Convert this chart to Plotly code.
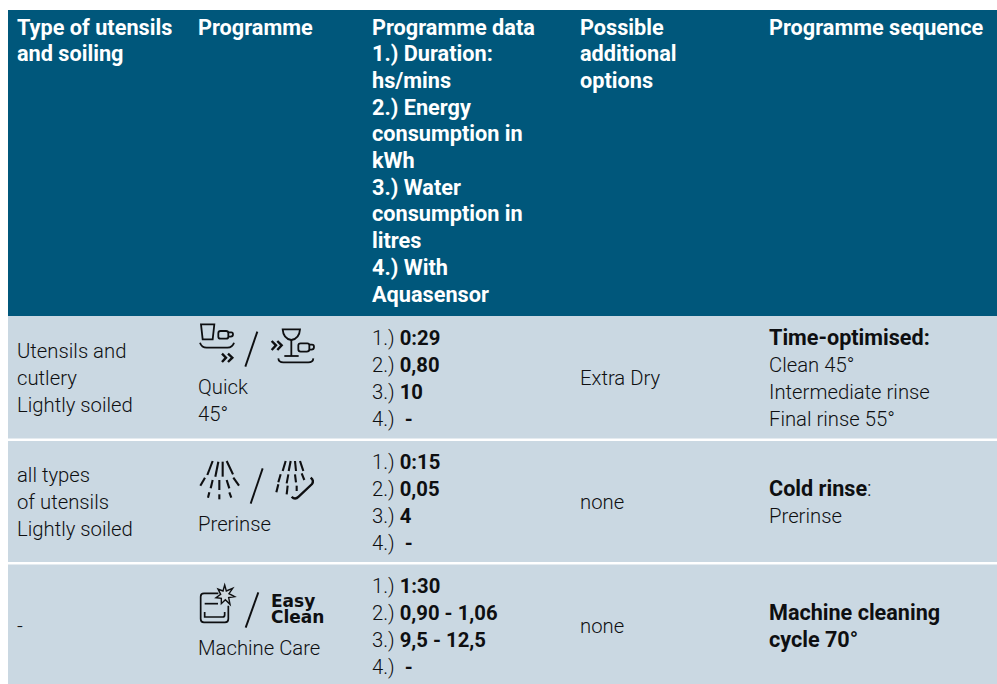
import plotly.graph_objects as go

# ---------- content ----------
headers = [
    "Type of utensils<br>and soiling",
    "Programme",
    "Programme data<br>1.) Duration:<br>hs/mins<br>2.) Energy<br>consumption in<br>kWh<br>3.) Water<br>consumption in<br>litres<br>4.) With<br>Aquasensor",
    "Possible<br>additional<br>options",
    "Programme sequence",
]
utensils = ["Utensils and<br>cutlery<br>Lightly soiled", "all types<br>of utensils<br>Lightly soiled", "-"]
programmes = ["Quick<br>45°", "Prerinse", "Machine Care"]
durations = ["0:29", "0:15", "1:30"]
energy = ["0,80", "0,05", "0,90 - 1,06"]
water = ["10", "4", "9,5 - 12,5"]
aquasensor = ["&nbsp;-", "&nbsp;-", "&nbsp;-"]
options = ["Extra Dry", "none", "none"]
sequence = [
    "<b>Time-optimised:</b><br>Clean 45°<br>Intermediate rinse<br>Final rinse 55°",
    "<b>Cold rinse</b>:<br>Prerinse",
    "<b>Machine cleaning</b><br><b>cycle 70°</b>",
]
easy_clean = ["Easy", "Clean"]

# ---------- layout ----------
W, H = 997, 684
HEAD = "#00577b"
BODY = "#cad8e2"
INK = "#0e0f11"
FONT = "Roboto"
FS_HEAD = 21.7
FS_BODY = 20.3
FS_BOLD = 21.6
LH_HEAD = 26.7
LH_BODY = 27
col_x = [17, 198, 371.5, 580, 769]
row_edges = [(316, 438.5), (441, 562), (564.5, 684)]
row_mid = [378, 502, 626]
prog_y = [400.5, 524, 648]

shapes = [dict(type="rect", x0=8, x1=W, y0=10, y1=316, fillcolor=HEAD, line_width=0, layer="below")]
for a, b in row_edges:
    shapes.append(dict(type="rect", x0=8, x1=W, y0=a, y1=b, fillcolor=BODY, line_width=0, layer="below"))


def icon(ox, oy, path, width=2.0, fill=None):
    """path is written in 3x crop units relative to an origin"""
    out, num = [], 0
    for tok in path.split():
        try:
            v = float(tok)
            out.append(f"{(ox if num % 2 == 0 else oy) + v / 3:.2f}")
            num += 1
        except ValueError:
            out.append(tok)
    shapes.append(dict(type="path", path=" ".join(out), xref="x", yref="y",
                       line=dict(color=INK, width=width),
                       fillcolor=fill if fill else "rgba(0,0,0,0)"))


# row 1 icons
o = (190, 320)
for p in [
    "M 33 13 L 73 13 L 68 58 L 38 58 Z",
    "M 92 33 L 108 33 Q 115 33 115 40 L 115 50 Q 115 56 108 56 L 92 56 Q 85 56 85 50 L 85 40 Q 85 33 92 33 Z",
    "M 115 37 L 124 37 Q 129 37 129 43 Q 129 50 122 50 L 115 50",
    "M 30 68 Q 35 83 50 83 L 112 83 Q 128 82 132 68",
    "M 278 28 L 330 28 Q 328 56 304 60 Q 280 56 278 28 Z",
    "M 304 60 L 304 108",
    "M 283 108 L 326 108",
    "M 332 70 L 352 70 Q 358 70 358 76 L 358 88 Q 358 95 350 95 L 332 95 Q 325 95 325 88 L 325 76 Q 325 70 332 70 Z",
    "M 358 74 L 366 74 Q 372 74 372 81 Q 372 89 364 89 L 358 89",
    "M 265 115 Q 266 127 280 127 L 355 127 Q 369 127 370 115",
]:
    icon(*o, p, 1.8)
for p in [
    "M 96 101 L 108 113 L 96 126",
    "M 114 101 L 127 113 L 114 126",
    "M 245 63 L 258 76 L 245 90",
    "M 262 63 L 275 76 L 262 90",
]:
    icon(*o, p, 2.4)
icon(*o, "M 202 35 L 166 140", 1.9)

# row 2 icons
o = (190, 445)
for seg in [
    (68, 48, 52, 90), (85, 50, 76, 95), (98, 50, 98, 95), (110, 48, 129, 88),
    (45, 98, 31, 122), (68, 105, 62, 130), (88, 105, 88, 135), (110, 105, 118, 130), (130, 98, 147, 122),
    (58, 142, 54, 158), (88, 148, 88, 163), (118, 142, 124, 158),
    (287, 48, 278, 78), (302, 48, 296, 78), (315, 48, 318, 78), (330, 48, 340, 78),
    (272, 88, 265, 112), (295, 88, 290, 115), (315, 88, 318, 112), (335, 85, 343, 105),
    (265, 118, 259, 142), (293, 122, 290, 148), (320, 122, 320, 138),
]:
    icon(*o, f"M {seg[0]} {seg[1]} L {seg[2]} {seg[3]}", 2.1)
icon(*o, "M 305 155 Q 315 166 326 155 L 366 117 Q 373 107 362 98", 2.3)
icon(*o, "M 218 70 L 182 176", 1.9)

# row 3 icons
o = (190, 565)
for p in [
    "M 85 85 L 42 85 Q 32 85 32 95 L 32 162 Q 32 172 42 172 L 105 172 Q 115 172 115 162 L 115 122",
    "M 44 116 L 84 116",
    "M 44 141 L 44 156 L 98 156 Q 104 156 104 150 L 104 141",
]:
    icon(*o, p, 1.7)
icon(*o, "M 104 60 L 109 78 L 128 70 L 117 86 L 134 95 L 116 98 L 120 118 L 106 104 L 94 116 L 94 100 L 78 98 L 92 88 L 84 72 L 99 78 Z",
     1.4, "#cfd8dd")
icon(*o, "M 205 82 L 167 188", 1.9)

# ---------- texts ----------
ann = []


def put(x, y, text, color=INK, size=FS_BODY, family=FONT, lh=LH_BODY, weight=300):
    """one annotation per text line, so that the line pitch is independent of the size"""
    lines = text.split("<br>")
    start = y - lh * (len(lines) - 1) / 2
    for i, line in enumerate(lines):
        s = FS_BOLD if (line.startswith("<b>") and size == FS_BODY) else size
        ann.append(dict(x=x, y=start + lh * i, xref="x", yref="y", text=line, showarrow=False,
                        xanchor="left", yanchor="middle", align="left", borderpad=0, borderwidth=0,
                        font=dict(family=family, size=s, color=color, weight=weight)))


for i, h in enumerate(headers):
    n = h.count("<br>")
    marked = "<br>".join(f"<b>{part}</b>" for part in h.split("<br>"))
    put(col_x[i], 27 + n * LH_HEAD / 2, marked, "#ffffff", FS_HEAD, lh=LH_HEAD)

for r in range(3):
    put(col_x[0], row_mid[r], utensils[r])
    put(col_x[1], prog_y[r], programmes[r])
    data = (f"1.) <b>{durations[r]}</b><br>2.) <b>{energy[r]}</b><br>"
            f"3.) <b>{water[r]}</b><br>4.) <b>{aquasensor[r]}</b>")
    put(col_x[2], row_mid[r], data)
    put(col_x[3], row_mid[r], options[r])
    put(col_x[4], row_mid[r], sequence[r])

put(270.5, 600.5, f"<b>{easy_clean[0]}</b>", INK, 17, "DejaVu Sans")
put(270.5, 617, f"<b>{easy_clean[1]}</b>", INK, 17, "DejaVu Sans")

fig = go.Figure()
fig.update_layout(
    width=W, height=H, margin=dict(l=0, r=0, t=0, b=0),
    paper_bgcolor="#ffffff", plot_bgcolor="#ffffff", showlegend=False,
    xaxis=dict(range=[0, W], visible=False, fixedrange=True),
    yaxis=dict(range=[H, 0], visible=False, fixedrange=True),
    shapes=shapes, annotations=ann,
)
fig.write_html("out.html", config=dict(displayModeBar=False),
               post_script="document.body.style.margin='0';document.body.style.overflow='hidden';")
